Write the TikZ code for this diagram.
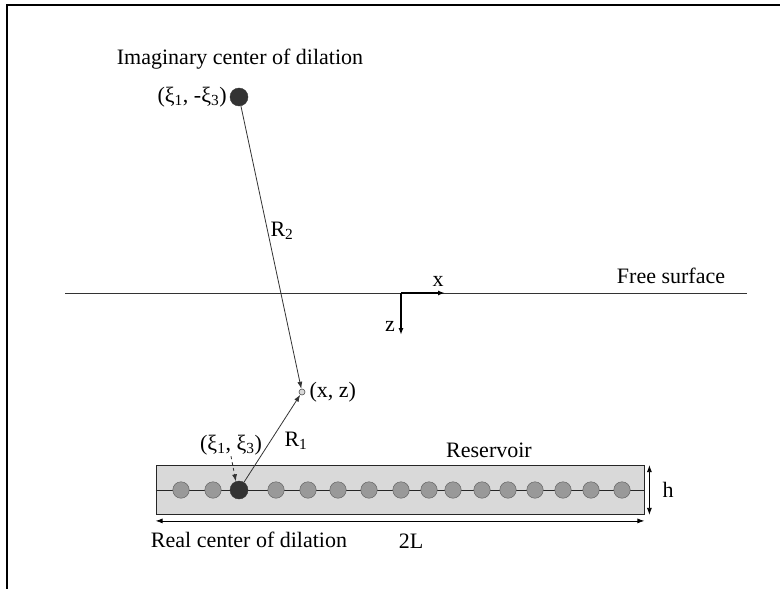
\documentclass[tikz,border=0pt]{standalone}
\usepackage{fontspec}
\setmainfont{Liberation Serif}
\usetikzlibrary{arrows.meta, positioning, calc}

\begin{document}
\begin{tikzpicture}[
  x=1pt, y=-1pt, >={Latex[length=7pt,width=5pt]},
  lbl/.style    = {font=\fontsize{22}{26}\selectfont, inner sep=1pt},
  dilat/.style  = {draw=black!80, fill=black!80, circle, inner sep=0pt, minimum size=18pt},
  ball/.style   = {draw=black!65, fill=black!40, circle, inner sep=0pt, minimum size=16.5pt},
  ray/.style    = {->, draw=black!80, line width=0.8pt},
]
  \useasboundingbox (0,0) rectangle (780,589);
%--- frame ---
  \draw[line width=2.6pt] (7,589) -- (7,5) -- (780,5);

%--- free surface and axes ---
  \coordinate (fsl) at (65,293);
  \coordinate (fsr) at (747,293);
  \draw[draw=black!80, line width=1pt] (fsl) -- (fsr);
  \node[lbl] (fslbl) at (671,276) {Free surface};

  \coordinate (orig) at (401,293);
  \coordinate (xend) at (445,293);
  \coordinate (zend) at (401,335);
  \draw[->, line width=1.8pt] (orig) -- (xend);
  \draw[->, line width=1.8pt] (orig) -- (zend);
  \node[lbl] (xlbl) at (438,281) {x};
  \node[lbl] (zlbl) at (390,326) {z};

%--- imaginary center ---
  \node[dilat] (imag) at (239,97) {};
  \node[lbl, left=2pt of imag] (imaglbl) {(ξ\textsubscript{1}, -ξ\textsubscript{3})};
  \node[lbl] (imagtitle) at (240,59) {Imaginary center of dilation};

%--- field point ---
  \node[circle, draw=black!70, fill=black!15, inner sep=0pt, minimum size=6pt, line width=0.6pt]
                                                  (pt) at (302,392) {};
  \node[lbl, right=3pt of pt]                     (ptlbl) {(x, z)};

%--- reservoir ---
  \node[draw=black!85, fill=black!15, line width=0.8pt, inner sep=0pt,
        minimum width=488pt, minimum height=49pt] (res) at (400,490) {};
  \draw[draw=black!85, line width=0.8pt] (res.west) -- (res.east);
  \foreach \bx in {181,213,276,308,338,369,401,429,453,482,508,535,563,591,622}
    \node[ball] at (\bx,490) {};
  \node[dilat] (real) at (239,490) {};

  \node[lbl] (reslbl) at (489,450) {Reservoir};
  \node[lbl] (reallbl) at (231,445) {(ξ\textsubscript{1}, ξ\textsubscript{3})};
  \node[lbl] (realtitle) at (249,540) {Real center of dilation};

  % dimensions
  \draw[<->, line width=0.8pt] ($(res.north east)+(5,0)$) -- ($(res.south east)+(5,0)$);
  \draw[<->, line width=0.8pt] ($(res.south west)+(0,6)$) -- ($(res.south east)+(0,6)$);
  \node[lbl] (hlbl) at (668,490) {h};
  \node[lbl] (Llbl) at (411,541) {2L};

%--- distances ---
  \draw[ray] (imag) -- (pt);
  \draw[ray] (real) -- (pt);
  \draw[->, dashed, draw=black!80, line width=0.8pt] (reallbl.south) -- (real.110);
  \node[lbl] (R2lbl) at (282,231) {R\textsubscript{2}};
  \node[lbl] (R1lbl) at (296,441) {R\textsubscript{1}};
\end{tikzpicture}
\end{document}
